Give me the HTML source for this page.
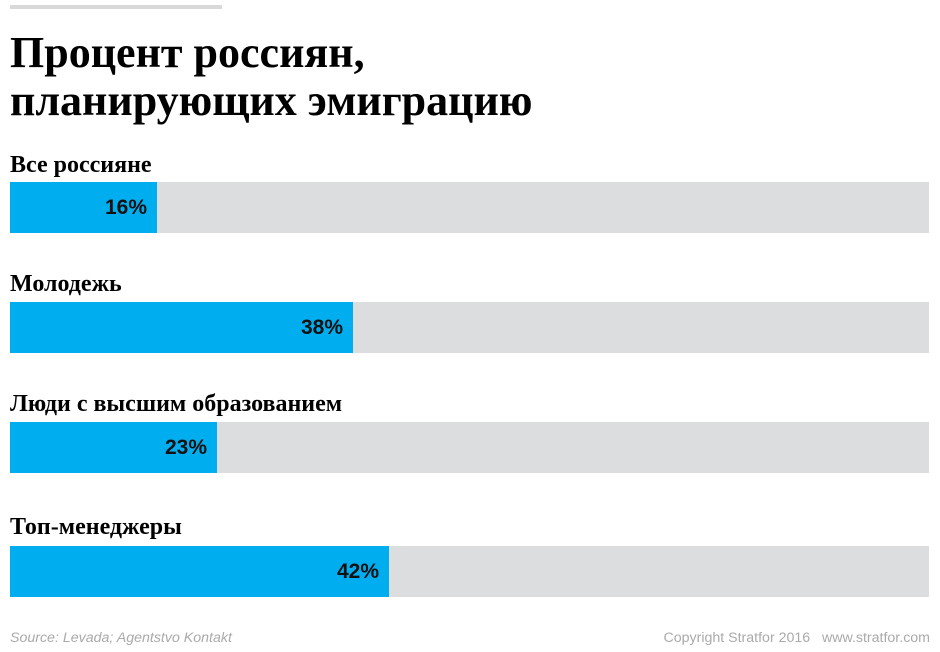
<!DOCTYPE html>
<html><head><meta charset="utf-8"><style>
body{margin:0;width:940px;height:652px;background:#fff;position:relative;overflow:hidden}
.t{position:absolute;left:10px;font-family:"Liberation Serif","Noto Serif CJK SC",serif;font-weight:bold;color:#000;white-space:nowrap}
.bar{position:absolute;left:10px;width:919px;height:51px;background:#dcddde}
.fill{position:absolute;left:0;top:0;height:51px;background:#00aeef}
.pct{position:absolute;right:10px;top:14px;font:bold 21px "Liberation Sans",sans-serif;color:#111}
.f{position:absolute;top:630px;font:italic 14.2px "Liberation Sans",sans-serif;color:#aaa}
</style></head><body>
<div style="position:absolute;left:10px;top:5px;width:212px;height:4px;background:#d9d9d9"></div>
<div class="t" style="top:29px;font-size:44px;line-height:48px">Процент россиян,<br>планирующих эмиграцию</div>
<div class="t" style="top:152px;font-size:24px">Все россияне</div>
<div class="bar" style="top:182px"><div class="fill" style="width:147px"><span class="pct">16%</span></div></div>
<div class="t" style="top:271px;font-size:24px">Молодежь</div>
<div class="bar" style="top:302px"><div class="fill" style="width:343px"><span class="pct">38%</span></div></div>
<div class="t" style="top:391px;font-size:24px">Люди с высшим образованием</div>
<div class="bar" style="top:422px"><div class="fill" style="width:207px"><span class="pct">23%</span></div></div>
<div class="t" style="top:514px;font-size:24px">Топ-менеджеры</div>
<div class="bar" style="top:546px"><div class="fill" style="width:379px"><span class="pct">42%</span></div></div>
<div class="f" style="left:10px">Source: Levada; Agentstvo Kontakt</div>
<div class="f" style="right:10px;font-style:normal">Copyright Stratfor 2016 &nbsp; www.stratfor.com</div>
</body></html>
